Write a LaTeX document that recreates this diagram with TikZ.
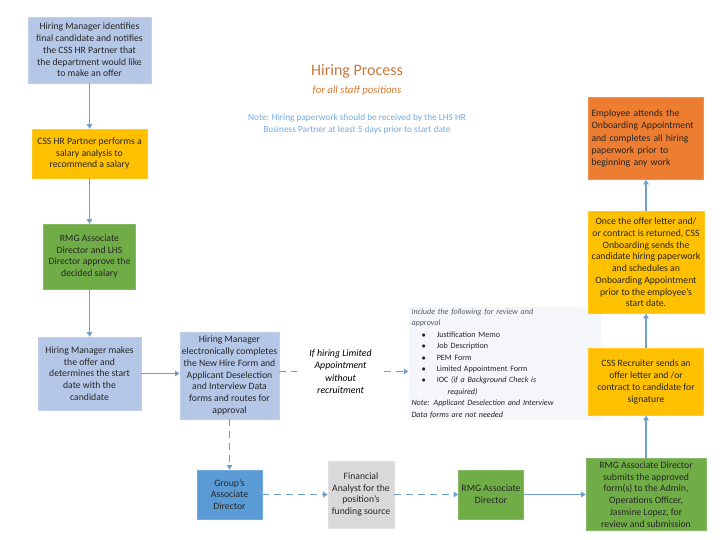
\documentclass[tikz,border=0pt]{standalone}
\usepackage{fontspec}
\setmainfont{Carlito}
\usepackage{xcolor}
\usetikzlibrary{positioning,arrows.meta}

\definecolor{paleblue}{HTML}{B4C7E7}
\definecolor{gold}{HTML}{FFC000}
\definecolor{leaf}{HTML}{70AD47}
\definecolor{sky}{HTML}{5B9BD5}
\definecolor{silver}{HTML}{D9D9D9}
\definecolor{tangerine}{HTML}{ED7D31}
\definecolor{wire}{HTML}{6F9FD0}
\definecolor{rust}{HTML}{C8783A}
\definecolor{notefill}{HTML}{F4F6F9}
\definecolor{notegray}{HTML}{56606C}

\begin{document}
\begin{tikzpicture}[x=1pt, y=-1pt,
  every node/.style={font=\fontsize{9.7}{11.7}\selectfont, align=center, inner sep=2pt},
  box/.style={rectangle, draw=#1!85!white, fill=#1, text=black!85, line width=0.6pt},
  flow/.style={draw=wire, line width=1.2pt, -{Triangle[length=4.5pt,width=5.5pt]}},
  dflow/.style={flow, dash pattern=on 7pt off 5pt}]
    \useasboundingbox (0,0) rectangle (720,540);

    \node [box=paleblue, minimum width=123pt, minimum height=66pt] (identify) at (89.5,50) {Hiring Manager identifies\\final candidate and notifies\\the CSS HR Partner that\\the department would like\\to make an offer};
    \node [box=gold, below of=identify, node distance=103.5pt, minimum width=115pt, minimum height=49pt] (analysis) {CSS HR Partner performs a\\salary analysis to\\recommend a salary};
    \node [box=leaf, below of=analysis, node distance=103pt, minimum width=92pt, minimum height=65pt] (approve) {RMG Associate\\Director and LHS\\Director approve the\\decided salary};
    \node [box=paleblue, below of=approve, node distance=117pt, minimum width=103pt, minimum height=73pt] (offer) {Hiring Manager makes\\the offer and\\determines the start\\date with the\\candidate};
    \node [box=paleblue, right of=offer, node distance=140pt, yshift=-2pt, minimum width=97pt, minimum height=87pt] (forms) {Hiring Manager\\electronically completes\\the New Hire Form and\\Applicant Deselection\\and Interview Data\\forms and routes for\\approval};
    \node [right of=forms, node distance=111pt, yshift=4pt, minimum width=86pt, font=\fontsize{9.8}{12.5}\selectfont\itshape] (limited) {If hiring Limited\\Appointment\\without\\recruitment};
    \node [right of=limited, node distance=164pt, yshift=8pt, fill=notefill, minimum width=192pt, minimum height=108pt, text width=186pt, align=left, text=notegray, font=\fontsize{8.1}{11.4}\selectfont\itshape] (notes) {Include the following for review and\\approval\\
      \upshape\color{black!85}\hspace{10pt}$\bullet$\hspace{11pt}Justification Memo\\
      \upshape\color{black!85}\hspace{10pt}$\bullet$\hspace{11pt}Job Description\\
      \upshape\color{black!85}\hspace{10pt}$\bullet$\hspace{11pt}PEM Form\\
      \upshape\color{black!85}\hspace{10pt}$\bullet$\hspace{11pt}Limited Appointment Form\\
      \upshape\color{black!85}\hspace{10pt}$\bullet$\hspace{11pt}IOC \itshape(if a Background Check is\\
      \hspace{36pt}required)\\
      Note: Applicant Deselection and Interview\\Data forms are not needed};

    \node [box=sky, below of=forms, node distance=121pt, yshift=2pt, minimum width=65pt, minimum height=49pt] (groupad) {Group’s\\Associate\\Director};
    \node [box=silver, right of=groupad, node distance=131.5pt, minimum width=66pt, minimum height=67pt] (analyst) {Financial\\Analyst for the\\position’s\\funding source};
    \node [box=leaf, right of=analyst, node distance=130pt, minimum width=65pt, minimum height=49pt] (rmgad) {RMG Associate\\Director};
    \node [box=leaf, right of=rmgad, node distance=155pt, minimum width=120pt, minimum height=72pt] (submit) {RMG Associate Director\\submits the approved\\form(s) to the Admin,\\Operations Officer,\\Jasmine Lopez, for\\review and submission};
    \node [box=gold, above of=submit, node distance=112.5pt, minimum width=115pt, minimum height=67pt] (recruiter) {CSS Recruiter sends an\\offer letter and /or\\contract to candidate for\\signature};
    \node [box=gold, above of=recruiter, node distance=119.5pt, minimum width=116pt, minimum height=102pt] (onboard) {Once the offer letter and/\\or contract is returned, CSS\\Onboarding sends the\\candidate hiring paperwork\\and schedules an\\Onboarding Appointment\\prior to the employee’s\\start date.};
    \node [box=tangerine, above of=onboard, node distance=120pt, minimum width=115pt, minimum height=82pt, align=left, text width=109pt, yshift=4pt, font=\fontsize{9.7}{12.4}\selectfont] (attend) {Employee attends the\\Onboarding Appointment\\and completes all hiring\\paperwork prior to\\beginning any work\\[6pt]};

    % title and note
    \node [text=rust, font=\fontsize{16}{18}\selectfont] (title) at (357,71) {Hiring Process};
    \node [below of=title, node distance=20pt, text=rust!80!orange, font=\fontsize{10.8}{12}\selectfont\itshape] (subtitle) {for all staff positions};
    \node [below of=subtitle, node distance=33pt, text=sky!85!white, font=\fontsize{9.3}{12}\selectfont] (paperwork) {Note: Hiring paperwork should be received by the LHS HR\\Business Partner at least 5 days prior to start date};

    % connectors
    \draw [flow] (identify) -- (analysis);
    \draw [flow] (analysis) -- (approve);
    \draw [flow] (approve) -- (offer);
    \draw [flow] (offer) -- (offer -| forms.west);
    \draw [draw=wire, line width=1.2pt, dash pattern=on 7pt off 5pt] (forms.east |- limited) -- (limited);
    \draw [dflow] (limited) -- (limited -| notes.west);
    \draw [dflow] (forms) -- (groupad);
    \draw [dflow] (groupad) -- (analyst);
    \draw [dflow] (analyst) -- (rmgad);
    \draw [flow] (rmgad) -- (submit);
    \draw [flow] (submit) -- (recruiter);
    \draw [flow] (recruiter) -- (onboard);
    \draw [flow] (onboard) -- (attend);
\end{tikzpicture}
\end{document}
